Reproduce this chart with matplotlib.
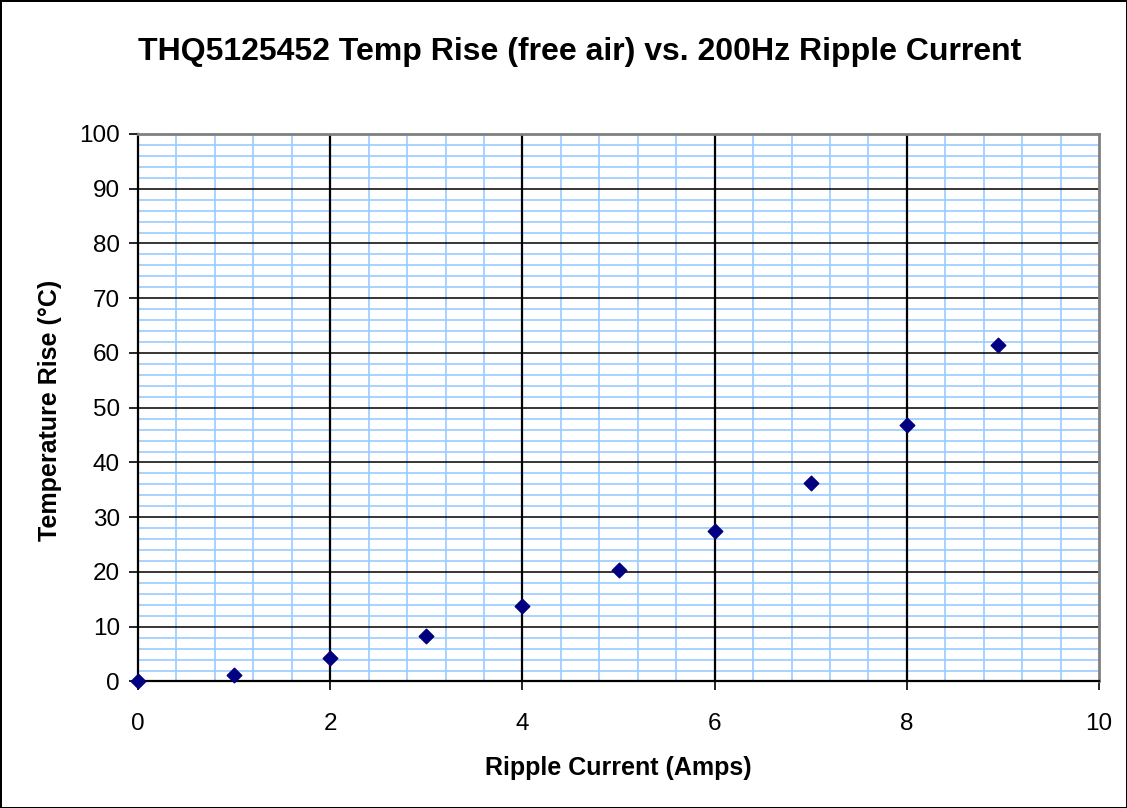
import numpy as np
import matplotlib.pyplot as plt
from matplotlib.ticker import MultipleLocator

# =========================
# DATA
# =========================

current_amps = [0, 1, 2, 3, 4, 5, 6, 7, 8, 8.95]
temp_rise = [0, 1.1, 4.3, 8.3, 13.8, 20.4, 27.4, 36.2, 46.8, 61.5]

title = "THQ5125452 Temp Rise (free air) vs. 200Hz Ripple Current"
x_label = "Ripple Current (Amps)"
y_label = "Temperature Rise (\u00b0C)"

# =========================
# CHART
# =========================

plt.rcParams["font.family"] = ["Liberation Sans", "DejaVu Sans"]

fig = plt.figure(figsize=(11.27, 8.08), dpi=100)
fig.patch.set_edgecolor("black")
fig.patch.set_linewidth(2)

ax = fig.add_axes([0.1225, 0.1566, 0.8527, 0.6776])

ax.set_xlim(0, 10)
ax.set_ylim(0, 100)

ax.xaxis.set_major_locator(MultipleLocator(2))
ax.xaxis.set_minor_locator(MultipleLocator(0.4))
ax.yaxis.set_major_locator(MultipleLocator(10))
ax.yaxis.set_minor_locator(MultipleLocator(2))

# minor grid (light blue) underneath
ax.grid(which="minor", color="#99ccff", linewidth=1.2)
ax.set_axisbelow(True)

# major grid (black) drawn on top of the minor one
for xt in ax.get_xticks():
    if 0 < xt < 10:
        ax.axvline(xt, color="black", linewidth=1.6, zorder=1.5)
for yt in ax.get_yticks():
    if 0 < yt < 100:
        ax.axhline(yt, color="black", linewidth=1.1, zorder=1.5)

ax.scatter(current_amps, temp_rise, marker="D", s=55, color="#000080",
           zorder=3, clip_on=False)

ax.tick_params(which="major", direction="out", length=6.5, width=1.2,
               labelsize=17.5)
ax.tick_params(axis="y", pad=6.5)
ax.tick_params(axis="x", pad=16)
ax.tick_params(which="minor", length=0)

for side in ["left", "bottom"]:
    ax.spines[side].set_color("black")
    ax.spines[side].set_linewidth(1.6)
for side in ["top", "right"]:
    ax.spines[side].set_color("#808080")
    ax.spines[side].set_linewidth(2)

fig.text(0.5488, 1 - 768 / 808, x_label, fontsize=18, fontweight="bold",
         ha="center", va="center")
fig.text(50 / 1127, 1 - 410 / 808, y_label, fontsize=18, fontweight="bold",
         ha="center", va="center", rotation=90)

fig.text(0.5146, 0.9356, title, fontsize=23, fontweight="bold",
         ha="center", va="center")

plt.savefig("out.png", dpi=100, edgecolor=fig.get_edgecolor())
plt.close()
